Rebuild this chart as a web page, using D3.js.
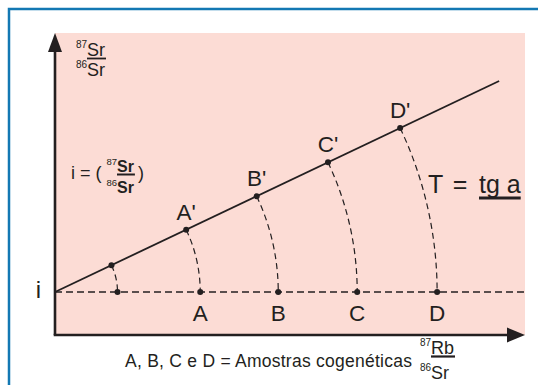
<!DOCTYPE html>
<html>
<head>
<meta charset="utf-8">
<script src="https://cdn.jsdelivr.net/npm/d3@7"></script>
<style>
  body { margin: 0; background: #fff; }
  svg { display: block; font-family: "Liberation Sans", Arial, sans-serif; }
  text { fill: #231f20; }
</style>
</head>
<body>
<div id="chart"></div>
<script>
// samples (first one has no label), initial 87Rb/86Sr ratio along the i line
const sampleNames = ['', 'A', 'B', 'C', 'D'];
const rbSr = [1.33, 3.09, 4.75, 6.43, 8.13];
// initial ratio i and slope of the isochron (tg a)
const initialRatio = 0.915;
const isochronSlope = 0.475;
const isochronEnd = 9.45;
const xMax = 10;

const width = 538;
const height = 385;
const ink = '#231f20';

const plot = { left: 55, right: 525, top: 33, bottom: 335 };
// same units per pixel on both axes so the arcs are circles
const yMax = xMax * (plot.bottom - plot.top) / (plot.right - plot.left);

const xScale = d3.scaleLinear().domain([0, xMax]).range([plot.left, plot.right]);
const yScale = d3.scaleLinear().domain([0, yMax]).range([plot.bottom, plot.top]);

const svg = d3.select('#chart')
  .append('svg')
  .attr('width', width)
  .attr('height', height);

// blue frame (top and left only)
svg.append('path')
  .attr('d', `M9,${height} V9 H${width}`)
  .attr('fill', 'none')
  .attr('stroke', '#1378b3')
  .attr('stroke-width', 2.5);

// pink panel
svg.append('rect')
  .attr('x', xScale(0))
  .attr('y', yScale(yMax))
  .attr('width', xScale(xMax) - xScale(0))
  .attr('height', yScale(0) - yScale(yMax))
  .attr('fill', '#fcdcd5');

const angle = Math.atan(isochronSlope);
const points = rbSr.map((r, k) => ({
  name: sampleNames[k],
  r,
  x0: r,
  y0: initialRatio,
  x1: r * Math.cos(angle),
  y1: initialRatio + r * Math.sin(angle)
}));

// i line (dashed)
svg.append('line')
  .attr('x1', xScale(0))
  .attr('x2', xScale(xMax))
  .attr('y1', yScale(initialRatio))
  .attr('y2', yScale(initialRatio))
  .attr('stroke', ink)
  .attr('stroke-width', 1.5)
  .attr('stroke-dasharray', '7,4');

// arcs from the isochron down to the i line
const pxPerUnit = xScale(1) - xScale(0);
svg.append('g')
  .selectAll('path')
  .data(points)
  .join('path')
  .attr('d', d => {
    const p = d3.path();
    p.moveTo(xScale(d.x1), yScale(d.y1));
    p.arc(xScale(0), yScale(initialRatio), d.r * pxPerUnit, -angle, 0, false);
    return p.toString();
  })
  .attr('fill', 'none')
  .attr('stroke', ink)
  .attr('stroke-width', 1.2)
  .attr('stroke-dasharray', '6,4');

// isochron
svg.append('line')
  .attr('x1', xScale(0))
  .attr('y1', yScale(initialRatio))
  .attr('x2', xScale(isochronEnd))
  .attr('y2', yScale(initialRatio + isochronEnd * isochronSlope))
  .attr('stroke', ink)
  .attr('stroke-width', 1.8);

// dots
const dots = svg.append('g').attr('fill', ink);
dots.selectAll('.d0').data(points).join('circle')
  .attr('cx', d => xScale(d.x0)).attr('cy', d => yScale(d.y0)).attr('r', 3);
dots.selectAll('.d1').data(points).join('circle')
  .attr('cx', d => xScale(d.x1)).attr('cy', d => yScale(d.y1)).attr('r', 3);

// labels
const named = points.filter(d => d.name);
svg.append('g').selectAll('text').data(named).join('text')
  .attr('x', d => xScale(d.x0))
  .attr('y', d => yScale(d.y0) + 29)
  .attr('text-anchor', 'middle')
  .attr('font-size', 22.5)
  .text(d => d.name);

svg.append('g').selectAll('text').data(named).join('text')
  .attr('x', d => xScale(d.x1))
  .attr('y', d => yScale(d.y1) - 10)
  .attr('text-anchor', 'middle')
  .attr('font-size', 22.5)
  .text(d => d.name + "'");

// axes with arrows
const axes = svg.append('g').attr('stroke', ink).attr('stroke-width', 2.6);
axes.append('line')
  .attr('x1', xScale(0)).attr('x2', xScale(0))
  .attr('y1', yScale(0)).attr('y2', yScale(yMax) + 15);
axes.append('line')
  .attr('x1', xScale(0) - 1.3).attr('x2', xScale(xMax) - 15)
  .attr('y1', yScale(0)).attr('y2', yScale(0));
svg.append('path')
  .attr('d', `M${xScale(0)},${yScale(yMax)} l7,19 h-14 Z`)
  .attr('fill', ink);
svg.append('path')
  .attr('d', `M${xScale(xMax)},${yScale(0)} l-18,-7.5 v15 Z`)
  .attr('fill', ink);

// "i" at the intercept
svg.append('text')
  .attr('x', xScale(0) - 14)
  .attr('y', yScale(initialRatio) + 6)
  .attr('text-anchor', 'end')
  .attr('font-size', 24)
  .text('i');

// fraction helper: superscript mass number + element, stacked with a bar
function fraction(x, yNum, yDen, top, bottom, size, supSize, bold, barWidth) {
  const g = svg.append('g');
  const put = (y, mass, el) => {
    g.append('text').attr('x', x).attr('y', y - size * 0.42)
      .attr('text-anchor', 'end').attr('font-size', supSize).text(mass);
    return g.append('text').attr('x', x).attr('y', y)
      .attr('font-size', size).attr('font-weight', bold ? 'bold' : 'normal').text(el);
  };
  const t = put(yNum, top[0], top[1]);
  put(yDen, bottom[0], bottom[1]);
  const w = t.node().getComputedTextLength();
  g.append('line')
    .attr('x1', x).attr('x2', x + w + 1)
    .attr('y1', yNum + 2.5).attr('y2', yNum + 2.5)
    .attr('stroke', ink).attr('stroke-width', barWidth);
  return g;
}

// y axis title
fraction(87, 56, 76, ['87', 'Sr'], ['86', 'Sr'], 18, 10, false, 1.8);

// i = (87Sr/86Sr)
svg.append('text').attr('x', 71).attr('y', 179).attr('font-size', 18).text('i = (');
fraction(117, 172, 193, ['87', 'Sr'], ['86', 'Sr'], 16, 9.5, true, 2);
svg.append('text').attr('x', 138).attr('y', 179).attr('font-size', 18).text(')');

// T = tg a
svg.append('text').attr('x', 428).attr('y', 193).attr('font-size', 25)
  .attr('letter-spacing', 1.5).text('T =');
const tg = svg.append('text').attr('x', 479).attr('y', 193).attr('font-size', 25).text('tg a');
const tgW = tg.node().getComputedTextLength();
svg.append('line')
  .attr('x1', 479).attr('x2', 479 + tgW)
  .attr('y1', 198).attr('y2', 198)
  .attr('stroke', ink).attr('stroke-width', 2.8);

// caption and x axis title
svg.append('text').attr('x', 125).attr('y', 367).attr('font-size', 17.5)
  .attr('letter-spacing', 0.25)
  .text('A, B, C e D = Amostras cogenéticas');
fraction(431, 354, 379, ['87', 'Rb'], ['86', 'Sr'], 18, 10, false, 2.2);
</script>
</body>
</html>
